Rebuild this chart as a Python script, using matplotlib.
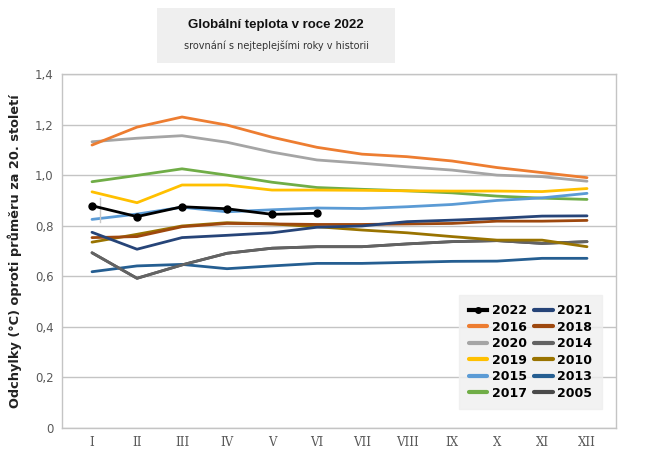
import matplotlib
matplotlib.use("Agg")
import matplotlib.pyplot as plt
from matplotlib.patches import Rectangle

months = ["I", "II", "III", "IV", "V", "VI", "VII", "VIII", "IX", "X", "XI", "XII"]

y2022 = [0.879, 0.836, 0.875, 0.867, 0.845, 0.849]
y2016 = [1.119, 1.19, 1.23, 1.198, 1.15, 1.11, 1.083, 1.073, 1.056, 1.03, 1.01, 0.99]
y2020 = [1.132, 1.146, 1.156, 1.13, 1.091, 1.06, 1.047, 1.033, 1.02, 1.0, 0.994, 0.976]
y2019 = [0.934, 0.891, 0.961, 0.961, 0.941, 0.941, 0.94, 0.938, 0.937, 0.937, 0.935, 0.947]
y2015 = [0.825, 0.846, 0.873, 0.855, 0.863, 0.87, 0.868, 0.875, 0.884, 0.9, 0.91, 0.928]
y2017 = [0.974, 0.999, 1.025, 1.0, 0.972, 0.951, 0.944, 0.938, 0.93, 0.917, 0.909, 0.904]
y2021 = [0.774, 0.707, 0.753, 0.762, 0.772, 0.794, 0.799, 0.816, 0.822, 0.829, 0.838, 0.839]
y2018 = [0.753, 0.757, 0.796, 0.809, 0.807, 0.805, 0.805, 0.807, 0.809, 0.818, 0.818, 0.821]
y2014 = [0.693, 0.592, 0.645, 0.691, 0.711, 0.717, 0.717, 0.728, 0.737, 0.741, 0.73, 0.737]
y2010 = [0.735, 0.766, 0.799, 0.812, 0.807, 0.796, 0.783, 0.772, 0.757, 0.743, 0.743, 0.717]
y2013 = [0.618, 0.641, 0.647, 0.63, 0.641, 0.651, 0.651, 0.655, 0.659, 0.66, 0.671, 0.671]
y2005 = [0.693, 0.592, 0.645, 0.691, 0.711, 0.717, 0.717, 0.728, 0.737, 0.741, 0.73, 0.737]

yticks = [0, 0.2, 0.4, 0.6, 0.8, 1.0, 1.2, 1.4]
ytick_labels = ["0", "0,2", "0,4", "0,6", "0,8", "1,0", "1,2", "1,4"]

# (label, values, colour) drawn bottom to top
series = [
    ("2005", y2005, "#4a4a4a"),
    ("2013", y2013, "#255E91"),
    ("2014", y2014, "#636363"),
    ("2010", y2010, "#997300"),
    ("2018", y2018, "#9E480E"),
    ("2021", y2021, "#264478"),
    ("2017", y2017, "#70AD47"),
    ("2015", y2015, "#5B9BD5"),
    ("2019", y2019, "#FFC000"),
    ("2020", y2020, "#A5A5A5"),
    ("2016", y2016, "#ED7D31"),
]

fig = plt.figure(figsize=(6.5, 4.55), dpi=100)
ax = fig.add_axes([62 / 650, 1 - 428 / 455, 554 / 650, 354 / 455])

x = list(range(len(months)))
handles = {}
for label, vals, col in series:
    h, = ax.plot(x[:len(vals)], vals, color=col, lw=2.0, solid_capstyle="round", zorder=2)
    handles[label] = h
h, = ax.plot(x[:len(y2022)], y2022, color="black", lw=2.0, marker="o", ms=5, zorder=3)
handles["2022"] = h

# small stray mark in the original
ax.plot([0.0686, 0.0686], [0.582, 0.650], transform=ax.transAxes, color="#c8c8c8", lw=1)

ax.set_xlim(-0.667, 11.644)
ax.set_ylim(0, 1.4)
ax.set_yticks(yticks)
ax.set_yticklabels(ytick_labels, fontsize=8.5, color="#595959")
ax.set_xticks(x)
ax.set_xticklabels(months, fontsize=8.5, color="#595959", family="DejaVu Serif")
ax.tick_params(length=0, pad=6)
ax.grid(axis="y", color="#c4c4c4", lw=1)
ax.set_axisbelow(True)
for s in ax.spines.values():
    s.set_color("#c4c4c4")
    s.set_linewidth(1)

ax.set_ylabel("Odchylky (°C) oproti průměru za 20. století", fontsize=9.3,
              fontweight="bold", color="#222222", labelpad=9)

order = ["2022", "2016", "2020", "2019", "2015", "2017",
         "2021", "2018", "2014", "2010", "2013", "2005"]
leg = ax.legend([handles[k] for k in order], order, ncol=2, loc="upper left",
                bbox_to_anchor=(0.717, 0.376),
                frameon=True, fancybox=False, prop={"weight": "bold", "size": 9},
                handlelength=1.5, handletextpad=0.35, columnspacing=0.6,
                labelspacing=0.28, borderpad=0.75, borderaxespad=0)
leg.get_frame().set_facecolor("#efefef")
leg.get_frame().set_edgecolor("#efefef")
for lh in leg.get_lines():
    lh.set_linewidth(3)
leg.get_lines()[0].set_markersize(4)

fig.patches.append(Rectangle((157 / 650, 1 - 63 / 455), 238 / 650, 55 / 455,
                             transform=fig.transFigure, facecolor="#efefef",
                             edgecolor="none", zorder=0))
fig.text(276 / 650, 1 - 25 / 455, "Globální teplota v roce 2022", ha="center",
         va="center", fontsize=9.5, fontweight="bold", color="#111111",
         family="Liberation Sans")
fig.text(276 / 650, 1 - 46 / 455, "srovnání s nejteplejšími roky v historii",
         ha="center", va="center", fontsize=7, color="#333333")

fig.savefig("out.png", dpi=100)
